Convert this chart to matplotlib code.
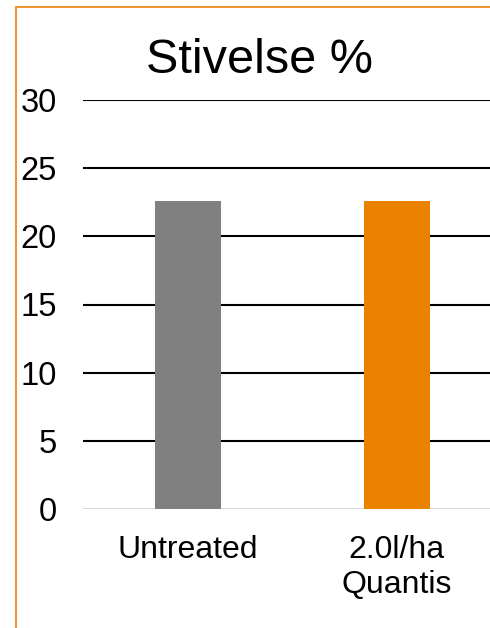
import matplotlib
matplotlib.use("Agg")
import matplotlib.pyplot as plt
from matplotlib.patches import Rectangle

categories = ["Untreated", "2.0l/ha\nQuantis"]
values = [22.6, 22.6]
colors = ["#808080", "#EA8200"]
yticks = [0, 5, 10, 15, 20, 25, 30]
title = "Stivelse %"

plt.rcParams['font.family'] = ['Liberation Sans', 'DejaVu Sans']

W, H = 490, 628
fig = plt.figure(figsize=(W / 100, H / 100), dpi=100)

# orange frame (extends beyond right/bottom)
fig.patches.append(Rectangle((16 / W, -0.1), 1.2, (H - 7) / H + 0.1,
                             transform=fig.transFigure, fill=False,
                             edgecolor="#ED8B1E", linewidth=1.3))

left, right = 83 / W, 501.5 / W
bottom, top = (H - 509) / H, (H - 100) / H
ax = fig.add_axes([left, bottom, right - left, top - bottom])
x = list(range(len(categories)))
ax.bar(x, values, width=0.316, color=colors, zorder=3)
ax.set_xlim(-0.5, 1.5)
ax.set_ylim(0, 30)
ax.set_yticks(yticks)
ax.set_yticklabels([str(t) for t in yticks], fontsize=23.5)
for t in yticks[1:]:
    ax.axhline(t, color="black", linewidth=1.5, zorder=1)
ax.axhline(0, color="#D9D9D9", linewidth=1.5, zorder=2)
ax.set_xticks(x)
ax.set_xticklabels(categories, fontsize=23, linespacing=1.22)
ax.tick_params(axis="both", length=0)
ax.tick_params(axis="y", pad=19)
ax.tick_params(axis="x", pad=19)
for s in ax.spines.values():
    s.set_visible(False)

fig.text(259 / W, (H - 73) / H, title, fontsize=35, ha="center", va="baseline")

fig.savefig("out.png", dpi=100)
